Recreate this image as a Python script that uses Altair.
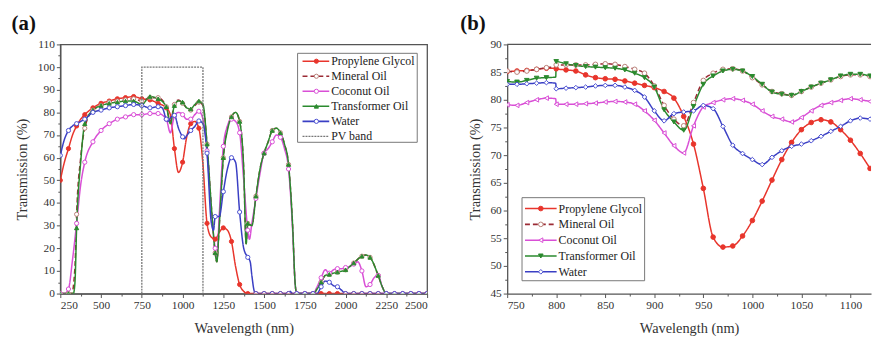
import altair as alt
import pandas as pd

# ---------------- series definitions ----------------
names = ["Propylene Glycol", "Mineral Oil", "Coconut Oil", "Transformer Oil", "Water"]
line_colors = ["#e8352c", "#9b2b35", "#d94fd6", "#2a8a2e", "#3a3fc4"]
marker_stroke = ["#e8352c", "#b9837a", "#d94fd6", "#2a8a2e", "#4a4fd0"]
marker_fill = ["#e8352c", "white", "white", "#2a8a2e", "white"]
dashes = [[1, 0], [5, 3], [1, 0], [1, 0], [1, 0]]
shapes_a = ["circle", "circle", "circle", "triangle-up", "circle"]
shapes_b = ["circle", "circle", "triangle-left", "triangle-down", "diamond"]

# ---------------- panel (a): 250-2500 nm ----------------
a_pg_x = [250, 275, 300, 325, 350, 375, 400, 450, 500, 550, 600, 650, 700, 750, 800, 850, 900, 925, 950, 975,
          1000, 1025, 1050, 1075, 1100, 1125, 1150, 1175, 1200, 1225, 1250, 1275, 1300, 1325, 1350, 1375, 1400,
          1450, 1500, 1550, 1600, 1650, 1700, 1750, 1800, 1850, 1900, 1950, 2000, 2050, 2100, 2150, 2200, 2250,
          2300, 2350, 2400, 2450, 2500]
a_pg_y = [50, 58, 64, 70, 74, 77, 79, 82, 84, 85, 86, 86.5, 87, 86, 85.5, 84, 82, 79, 64, 53.5,
          58, 69, 75, 76, 73, 57, 31, 25, 24, 27, 29, 28, 23, 12, 4, 1, 0,
          0, 0, 0, 0, 0, 0, 0, 0, 0, 0, 0, 0, 0, 0, 0, 0, 0,
          0, 0, 0, 0, 0]

a_mo_x = [250, 300, 320, 340, 350, 375, 400, 450, 500, 550, 600, 650, 700, 750, 800, 850, 900, 925, 950, 975,
          1000, 1025, 1050, 1075, 1100, 1125, 1150, 1175, 1200, 1210, 1225, 1250, 1275, 1300, 1325, 1350, 1375,
          1390, 1400, 1425, 1450, 1475, 1500, 1525, 1550, 1575, 1600, 1625, 1650, 1675, 1690, 1700, 1750, 1800,
          1825, 1850, 1875, 1900, 1950, 2000, 2050, 2100, 2125, 2150, 2200, 2225, 2250, 2300, 2350, 2400, 2450, 2500]
a_mo_y = [0, 0, 0, 12, 35, 60, 73, 81, 83, 84.5, 85, 85.5, 86, 85, 86.5, 86.5, 82.5, 76, 83.5, 85.5,
          84, 82, 81, 83, 84.5, 83, 66, 40, 18, 14, 30, 60, 73, 78, 80, 76, 55,
          22, 31, 30, 43, 55, 62, 67, 72, 73, 71, 66, 57, 30, 5, 0, 0, 0,
          2, 5, 8, 8.5, 9.5, 10.5, 13.5, 16.5, 17, 16, 8, 3, 0, 0, 0, 0, 0, 0]

a_co_x = [250, 275, 300, 325, 350, 375, 400, 450, 500, 550, 600, 650, 700, 750, 800, 850, 900, 925, 950, 975,
          1000, 1025, 1050, 1075, 1100, 1125, 1150, 1175, 1200, 1210, 1225, 1250, 1275, 1300, 1325, 1350, 1375,
          1400, 1410, 1425, 1450, 1475, 1500, 1525, 1550, 1575, 1600, 1625, 1650, 1675, 1690, 1700, 1750, 1800,
          1825, 1850, 1875, 1900, 1925, 1950, 1975, 2000, 2025, 2050, 2075, 2100, 2125, 2150, 2175, 2200, 2225,
          2250, 2300, 2350, 2400, 2450, 2500]
a_co_y = [0, 0, 2, 15, 31, 48, 58, 67, 72, 75, 77, 78, 79, 79, 79.5, 79.5, 77, 71, 78.5, 80,
          79, 77, 77, 79, 80.5, 77, 63, 38, 20, 16, 35, 65, 74, 77, 76, 71, 50,
          28, 24, 31, 42, 53, 62, 64, 67, 70, 69, 64, 55, 28, 5, 0, 0, 0,
          3, 7, 10.5, 9, 10.5, 11, 11, 11.5, 12, 13, 14, 10, 3, 4, 7, 8, 3,
          0, 0, 0, 0, 0, 0]

a_to_x = [250, 300, 330, 340, 350, 375, 400, 450, 500, 550, 600, 650, 700, 750, 800, 850, 900, 925, 950, 975,
          1000, 1025, 1050, 1075, 1100, 1125, 1150, 1175, 1200, 1210, 1225, 1250, 1275, 1300, 1325, 1350, 1375,
          1390, 1400, 1425, 1450, 1475, 1500, 1525, 1550, 1575, 1600, 1625, 1650, 1675, 1690, 1700, 1750, 1800,
          1825, 1850, 1875, 1900, 1950, 2000, 2050, 2100, 2125, 2150, 2200, 2225, 2250, 2300, 2350, 2400, 2450, 2500]
a_to_y = [0, 0, 0, 5, 29, 58, 75, 81, 83, 84, 84.5, 85, 85, 83.5, 87, 86, 82.5, 75, 83, 85,
          84.5, 82, 81.5, 83.5, 85, 83.5, 66, 40, 18, 14, 30, 60, 72, 78, 80, 76, 55,
          22, 31, 30, 43, 55, 62, 67, 72, 73, 71, 66, 57, 30, 5, 0, 0, 0,
          2, 5, 8, 8.5, 9.5, 10.5, 13.5, 16.5, 17, 16, 8, 3, 0, 0, 0, 0, 0, 0]

a_wa_x = [250, 275, 300, 325, 350, 375, 400, 450, 500, 550, 600, 650, 700, 750, 800, 850, 875, 900, 910, 925,
          950, 975, 1000, 1010, 1025, 1050, 1075, 1100, 1125, 1150, 1175, 1190, 1200, 1225, 1250, 1275, 1300,
          1325, 1350, 1375, 1400, 1415, 1425, 1440, 1450, 1500, 1550, 1600, 1650, 1660, 1675, 1700, 1750, 1800,
          1825, 1850, 1875, 1900, 1925, 1950, 1975, 2000, 2050, 2100, 2150, 2200, 2250, 2300, 2350, 2400, 2450, 2500]
a_wa_y = [61, 68, 72, 74, 75, 76, 77, 80, 81, 82, 82.5, 83, 83.5, 83, 82, 82.5, 82, 77, 76, 77.5,
          78.7, 73, 69.2, 68.3, 69.7, 72, 73.8, 76.2, 75, 62, 32, 28, 34, 34, 45, 55, 60,
          58, 36, 20, 16, 14, 8, 1, 0, 0, 0, 0, 0, 1, 0, 0, 0, 0,
          0, 3, 5.5, 5, 3.5, 3, 1.5, 0, 0, 0, 0, 0, 0, 0, 0, 0, 0, 0]

pv_x = [750, 750, 1125, 1125]
pv_y = [0, 100, 100, 0]

# ---------------- panel (b): 750-1120 nm ----------------
b_x = [750, 760, 770, 780, 790, 799.5, 800, 810, 820, 830, 840, 850, 860, 870, 880, 890, 900, 910, 920, 930,
       940, 950, 960, 970, 980, 990, 1000, 1010, 1020, 1030, 1040, 1050, 1060, 1070, 1080, 1090, 1100, 1110,
       1120]
b_pg = [85.1, 85.2, 85.3, 85.5, 85.7, 85.7, 85.6, 85.4, 85.2, 84.5, 84.0, 83.8, 83.7, 83.4, 83.0, 82.6, 82.2,
        81.5, 80.3, 77.0, 72.0, 64.0, 55.2, 53.4, 53.6, 55.4, 58.2, 61.7, 65.5, 69.2, 72.3, 74.6, 75.9, 76.4,
        76.0, 74.6, 72.7, 70.3, 67.6]
b_mo = [85.2, 85.0, 85.2, 85.5, 85.8, 86.0, 86.3, 86.3, 86.3, 86.3, 86.4, 86.5, 86.4, 86.0, 85.5, 84.8, 82.5,
        79.0, 76.5, 75.3, 79.5, 83.5, 84.8, 85.5, 85.6, 85.2, 84.0, 82.7, 81.5, 81.1, 80.8, 81.5, 82.3, 83.0,
        83.6, 84.2, 84.5, 84.5, 84.2]
b_co = [79.1, 79.0, 79.5, 80.0, 80.3, 80.2, 79.2, 79.2, 79.2, 79.3, 79.4, 79.6, 79.7, 79.6, 79.2, 78.0, 76.3,
        74.0, 71.7, 70.4, 75.3, 78.7, 79.5, 80.0, 80.2, 79.9, 79.2, 78.0, 77.0, 76.5, 76.0, 76.8, 78.0, 79.0,
        79.5, 79.9, 80.2, 80.0, 79.7]
b_to = [83.3, 83.2, 83.5, 83.9, 84.0, 84.1, 86.9, 86.5, 86.2, 86.0, 85.9, 85.8, 85.7, 85.4, 84.8, 84.0, 82.3,
        78.2, 76.0, 74.5, 78.8, 82.8, 84.3, 85.2, 85.5, 85.2, 84.2, 82.8, 81.4, 81.0, 80.8, 81.5, 82.3, 83.0,
        83.6, 84.3, 84.6, 84.6, 84.3]
b_wa = [82.8, 82.8, 82.9, 83.0, 83.1, 83.0, 82.0, 82.1, 82.2, 82.3, 82.5, 82.6, 82.6, 82.3, 81.7, 80.5, 78.0,
        76.2, 77.5, 77.8, 78.0, 79.0, 78.4, 75.2, 71.8, 70.3, 69.2, 68.3, 69.6, 70.8, 71.6, 72.0, 72.6, 73.4,
        74.3, 75.2, 76.2, 76.7, 76.5]

a_ticks_x = list(range(250, 2501, 250))
a_ticks_y = list(range(0, 111, 10))
a_minor_x = list(range(375, 2500, 250))
a_minor_y = list(range(5, 110, 10))
b_ticks_x = list(range(750, 1101, 50))
b_ticks_y = list(range(45, 91, 5))
b_minor_x = list(range(775, 1120, 50))
b_minor_y = [47.5, 52.5, 57.5, 62.5, 67.5, 72.5, 77.5, 82.5, 87.5]

FONT = "Liberation Serif"

# ---------------- tables ----------------
rows = []
for nm, xs, ys in zip(names, [a_pg_x, a_mo_x, a_co_x, a_to_x, a_wa_x], [a_pg_y, a_mo_y, a_co_y, a_to_y, a_wa_y]):
    for xv, yv in zip(xs, ys):
        rows.append({"series": nm, "x": xv, "y": yv})
df_a = pd.DataFrame(rows)

rows = []
for nm, ys in zip(names, [b_pg, b_mo, b_co, b_to, b_wa]):
    for xv, yv in zip(b_x, ys):
        rows.append({"series": nm, "x": xv, "y": yv})
df_b = pd.DataFrame(rows)

df_pv = pd.DataFrame({"x": pv_x, "y": pv_y, "o": list(range(len(pv_x)))})
df_leg = pd.DataFrame({"series": names, "idx": list(range(len(names)))})
one = pd.DataFrame({"k": [0]})

col = alt.Color("series:N", scale=alt.Scale(domain=names, range=line_colors), legend=None)
dash = alt.StrokeDash("series:N", scale=alt.Scale(domain=names, range=dashes), legend=None)
fill = alt.Fill("series:N", scale=alt.Scale(domain=names, range=marker_fill), legend=None)
strk = alt.Stroke("series:N", scale=alt.Scale(domain=names, range=marker_stroke), legend=None)


def panel(df, xdom, ydom, xticks, yticks, xminor, yminor, shapes, msize, step, W, H, legend_geom,
          with_pv, title, frame_right, tdx):
    xs = alt.Scale(domain=xdom, nice=False, zero=False)
    ys = alt.Scale(domain=ydom, nice=False, zero=False)
    xax = alt.Axis(values=xticks, title="Wavelength (nm)", format="d", orient="bottom")
    base = alt.Chart(df)
    lines = base.mark_line(interpolate="monotone", strokeWidth=1.5, clip=True).encode(
        x=alt.X("x:Q", scale=xs, axis=xax),
        y=alt.Y("y:Q", scale=ys, axis=alt.Axis(values=yticks, title="Transmission (%)", orient="left")),
        color=col, strokeDash=dash)
    minor = base.mark_point(opacity=0).encode(
        x=alt.X("x:Q", scale=xs, axis=alt.Axis(values=xminor, labels=False, title=None, domain=False,
                                               tickSize=2.5, orient="bottom")),
        y=alt.Y("y:Q", scale=ys, axis=alt.Axis(values=yminor, labels=False, title=None, domain=False,
                                               tickSize=2.5, orient="left")))
    pts = base.transform_filter(f"datum.x % {step} == 0").mark_point(
        size=msize, strokeWidth=1, filled=True, opacity=1, clip=True).encode(
        x=alt.X("x:Q", scale=xs, axis=None),
        y=alt.Y("y:Q", scale=ys, axis=None),
        fill=fill, stroke=strk,
        shape=alt.Shape("series:N", scale=alt.Scale(domain=names, range=shapes), legend=None))
    layers = [lines, minor, pts]
    if with_pv:
        pv = alt.Chart(df_pv).mark_line(color="#777", strokeWidth=1.3, strokeDash=[2, 1]).encode(
            x=alt.X("x:Q", scale=xs, axis=None), y=alt.Y("y:Q", scale=ys, axis=None), order="o:Q")
        layers.append(pv)
    bx0, bx1, by0, by1, lx0, lx1, lm, lt, ly0, ly1, n = legend_geom
    lys = alt.Scale(domain=[0, n - 1], range=[ly0, ly1])
    box = alt.Chart(one).mark_rect(fill="white", stroke="#777", strokeWidth=1).encode(
        x=alt.value(bx0), x2=alt.value(bx1), y=alt.value(by0), y2=alt.value(by1))
    lrule = alt.Chart(df_leg).mark_rule(strokeWidth=1.6).encode(
        x=alt.value(lx0), x2=alt.value(lx1), y=alt.Y("idx:Q", scale=lys, axis=None), color=col, strokeDash=dash)
    lpt = alt.Chart(df_leg).mark_point(size=msize, strokeWidth=1, filled=True, opacity=1).encode(
        x=alt.value(lm), y=alt.Y("idx:Q", scale=lys, axis=None), fill=fill, stroke=strk,
        shape=alt.Shape("series:N", scale=alt.Scale(domain=names, range=shapes), legend=None))
    ltxt = alt.Chart(df_leg).mark_text(align="left", baseline="middle", font=FONT, fontSize=12,
                                       color="#222").encode(
        x=alt.value(lt), y=alt.Y("idx:Q", scale=lys, axis=None), text="series:N")
    layers += [box, lrule, lpt, ltxt]
    if with_pv:
        df_pvleg = pd.DataFrame({"label": ["PV band"], "idx": [n - 1]})
        pvr = alt.Chart(df_pvleg).mark_rule(color="#777", strokeWidth=1.3, strokeDash=[2, 1]).encode(
            x=alt.value(lx0), x2=alt.value(lx1), y=alt.Y("idx:Q", scale=lys, axis=None))
        pvt = alt.Chart(df_pvleg).mark_text(align="left", baseline="middle", font=FONT, fontSize=12,
                                            color="#222").encode(
            x=alt.value(lt), y=alt.Y("idx:Q", scale=lys, axis=None), text="label:N")
        layers += [pvr, pvt]
    if frame_right:
        view = alt.ViewBackground(stroke="#555", strokeWidth=1.3)
    else:
        topline = alt.Chart(one).mark_rule(color="#555", strokeWidth=1.3).encode(
            x=alt.value(0), x2=alt.value(W), y=alt.value(0))
        layers.append(topline)
        view = alt.ViewBackground(stroke=None)
    ch = alt.layer(*layers).resolve_scale(y="independent").resolve_axis(
        x="independent", y="independent").properties(
        width=W, height=H, view=view,
        title=alt.TitleParams(title, anchor="start", frame="bounds", font=FONT, fontSize=21,
                              fontWeight="bold", color="#111", dx=tdx, offset=5))
    return ch


pa = panel(df_a, [250, 2500], [0, 110], a_ticks_x, a_ticks_y, a_minor_x, a_minor_y, shapes_a, 18, 50, 371, 252,
           (240, 361, 9, 99, 245, 272, 259, 274, 17, 93, 6), True, "(a)", True, -3)
pb = panel(df_b, [750, 1121], [45, 90], b_ticks_x, b_ticks_y, b_minor_x, b_minor_y, shapes_b, 22, 10, 368, 252,
           (15, 139, 155, 239, 18, 50, 34, 52, 166, 230, 5), False, "(b)", False, -7)

chart = alt.hconcat(pa, pb, spacing=29).resolve_scale(shape="independent").properties(
    padding={"left": 11, "top": 10, "right": 0, "bottom": 0}, background="white"
).configure_axis(
    grid=False, labelFont=FONT, labelFontSize=11.5, labelColor="#333", titleFont=FONT, titleFontSize=14.5,
    titleColor="#333", titleFontWeight="normal", domainColor="#555", domainWidth=1.3, tickColor="#555",
    tickSize=4, labelPadding=2, titlePadding=8
).configure_axisX(titlePadding=11)

chart.save("out.html", embed_options={"renderer": "svg", "actions": False})
